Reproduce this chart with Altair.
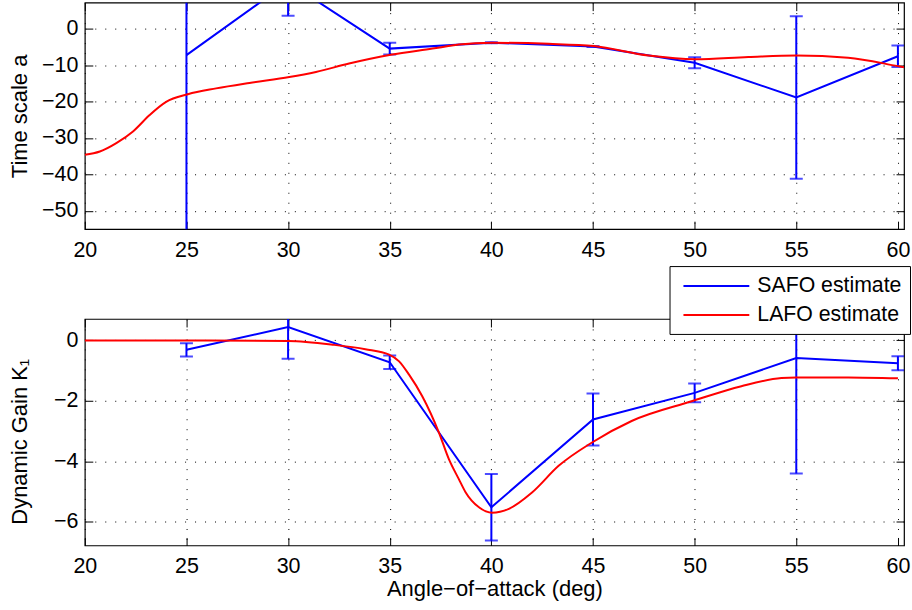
import altair as alt
import pandas as pd

# ---------------- data ----------------
aoa = [25, 30, 35, 40, 45, 50, 55, 60]

# top panel: time scale a (SAFO estimate with error bars)
safo_a = [-7.3, 12.7, -5.5, -3.9, -4.9, -9.4, -18.9, -7.6]
safo_a_err = [62.0, 9.2, 1.6, 0.15, 0.15, 1.5, 22.3, 2.95]

# bottom panel: dynamic gain K1 (SAFO estimate with error bars)
safo_k = [-0.32, 0.43, -0.73, -5.52, -2.62, -1.74, -0.59, -0.76]
safo_k_err = [0.22, 1.04, 0.22, 1.1, 0.86, 0.31, 3.81, 0.23]

# LAFO estimate curves
lafo_a_x = [20.0, 20.74, 21.55, 22.37, 23.19, 24.0, 25.07, 26.46, 28.1, 30.06, 31.37,
            33.0, 35.05, 37.1, 38.4, 40.04, 42.82, 45.03, 47.73, 50.02, 52.64, 55.0,
            57.55, 60.0, 60.3]
lafo_a = [-34.6, -33.7, -31.4, -28.2, -23.7, -20.1, -18.0, -16.4, -14.9, -13.3, -11.9,
          -9.6, -7.2, -5.5, -4.4, -3.9, -4.2, -4.8, -7.4, -8.4, -7.8, -7.4,
          -8.0, -10.3, -10.6]

lafo_k_x = [20.0, 25.0, 30.0, 32.19, 33.8, 34.97, 35.46, 35.95, 36.6, 37.42, 37.91,
            38.4, 38.73, 39.39, 40.04, 40.86, 42.0, 43.31, 44.95, 46.9, 49.85, 52.3,
            54.27, 55.0, 57.55, 60.0]
lafo_k = [-0.01, -0.01, -0.03, -0.15, -0.30, -0.48, -0.70, -1.14, -1.85, -3.05, -3.93,
          -4.59, -5.02, -5.52, -5.70, -5.57, -5.03, -4.15, -3.38, -2.67, -2.02, -1.52,
          -1.25, -1.23, -1.23, -1.26]

series_names = ["SAFO estimate", "LAFO estimate"]
series_colors = ["#0000ff", "#ff0000"]

x_ticks = [20, 25, 30, 35, 40, 45, 50, 55, 60]
a_ticks = [0, -10, -20, -30, -40, -50]
k_ticks = [0, -2, -4, -6]

x_domain = [20, 60.3]
a_domain = [-55, 7.1]
k_domain = [-6.78, 0.7]

# ---------------- styling ----------------
FONT = "Liberation Sans"
W, H = 821, 227


def inner_axis(orient, values):
    return alt.Axis(orient=orient, offset=-8, values=values, ticks=True, tickSize=8,
                    tickColor="black", tickWidth=1, labels=False, domain=False,
                    grid=False, title=None)


def panel(safo_v, safo_e, lx, lv, y_domain, y_ticks, y_title, title_shift,
          x_title, legend):
    safo_df = pd.DataFrame({
        "aoa": aoa,
        "value": safo_v,
        "low": [v - e for v, e in zip(safo_v, safo_e)],
        "high": [v + e for v, e in zip(safo_v, safo_e)],
        "series": series_names[0],
    })
    lafo_df = pd.DataFrame({"aoa": lx, "value": lv, "series": series_names[1]})

    xs = alt.Scale(domain=x_domain, nice=False, zero=False)
    ys = alt.Scale(domain=y_domain, nice=False, zero=False)
    cs = alt.Scale(domain=series_names, range=series_colors)

    grid_style = dict(grid=True, gridDash=[1, 9], gridColor="black", gridOpacity=1,
                      gridWidth=1, ticks=False, tickSize=0, domain=False,
                      labelFont=FONT, labelFontSize=21.5, labelColor="black",
                      labelFlush=False, labelOverlap=False)
    xa = dict(grid_style, orient="bottom", values=x_ticks, labelPadding=10)
    if x_title:
        xa.update(title=x_title, titleFont=FONT, titleFontSize=22,
                  titleFontWeight="normal", titleColor="black", titleY=50,
                  titleBaseline="alphabetic")
    else:
        xa.update(title=None)
    main_x = alt.Axis(**xa)
    main_y = alt.Axis(**grid_style, orient="left", values=y_ticks, labelPadding=7,
                      title=y_title, titleFont=FONT, titleFontSize=22,
                      titleFontWeight="normal", titleColor="black", titleX=-58,
                      titleY=H / 2 + title_shift, titleBaseline="alphabetic",
                      titleAlign="center")

    base = alt.Chart(safo_df)
    rule = base.mark_rule(color="#0000ff", strokeWidth=2, clip=True).encode(
        x=alt.X("aoa:Q", scale=xs, axis=main_x),
        y=alt.Y("low:Q", scale=ys, axis=main_y),
        y2="high:Q",
    )
    cap_low = base.mark_tick(color="#0000ff", orient="horizontal", size=13,
                             thickness=2, clip=True).encode(
        x=alt.X("aoa:Q", scale=xs, axis=inner_axis("bottom", x_ticks)),
        y=alt.Y("low:Q", scale=ys, axis=inner_axis("left", y_ticks)),
    )
    cap_high = base.mark_tick(color="#0000ff", orient="horizontal", size=13,
                              thickness=2, clip=True).encode(
        x=alt.X("aoa:Q", scale=xs, axis=inner_axis("top", x_ticks)),
        y=alt.Y("high:Q", scale=ys, axis=inner_axis("right", y_ticks)),
    )
    safo_line = base.mark_line(strokeWidth=2, clip=True).encode(
        x=alt.X("aoa:Q", scale=xs, axis=None),
        y=alt.Y("value:Q", scale=ys, axis=None),
        color=alt.Color("series:N", scale=cs, legend=legend),
    )
    lafo_line = alt.Chart(lafo_df).mark_line(strokeWidth=2, clip=True,
                                             interpolate="monotone").encode(
        x=alt.X("aoa:Q", scale=xs, axis=None),
        y=alt.Y("value:Q", scale=ys, axis=None),
        color=alt.Color("series:N", scale=cs, legend=None),
    )
    return alt.layer(rule, cap_low, cap_high, safo_line, lafo_line).properties(
        width=W, height=H
    ).resolve_axis(x="independent", y="independent")


legend = alt.Legend(
    title=None, orient="none", legendX=586, legendY=-53, direction="vertical",
    symbolType="M-0.55,0H5.45", symbolSize=484, symbolStrokeWidth=2,
    labelFont=FONT, labelFontSize=21.3, labelColor="black", labelOffset=56,
    labelLimit=400, padding=8, rowPadding=6, fillColor="white",
    strokeColor="black", cornerRadius=0,
)

top = panel(safo_a, safo_a_err, lafo_a_x, lafo_a, a_domain, a_ticks,
            "Time scale a", 0, "", None)
bottom = panel(safo_k, safo_k_err, lafo_k_x, lafo_k, k_domain, k_ticks,
               "Dynamic Gain K\u2081", 9, "Angle\u2212of\u2212attack (deg)", legend)

chart = alt.vconcat(top, bottom, spacing=2).resolve_legend(
    color="independent"
).properties(
    padding={"left": 8, "top": 0, "right": 0, "bottom": 0},
    background="white",
).configure_view(stroke="black", strokeWidth=1.2)

chart.save("out.html", embed_options={"renderer": "svg", "actions": False})
